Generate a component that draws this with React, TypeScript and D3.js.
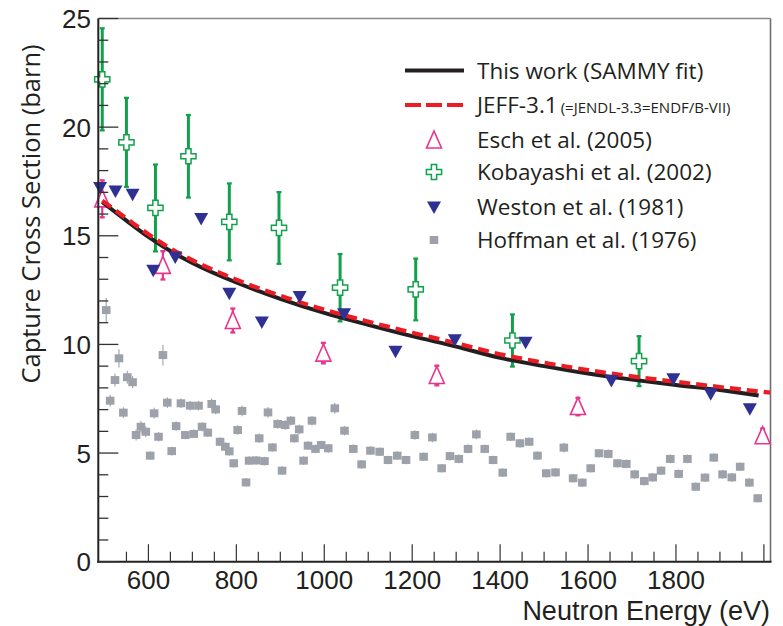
import React from 'react';
import * as d3 from 'd3';

const W = 783;
const H = 626;

// Curves (energy in eV, cross section in barn)
const fitE = [495, 550, 600, 650, 700, 800, 900, 1000, 1100, 1200, 1300, 1400, 1500, 1600, 1700, 1800, 1900, 1988];
const fitV = [16.55, 15.7, 14.95, 14.3, 13.75, 12.85, 12.1, 11.45, 10.9, 10.38, 9.9, 9.38, 9.0, 8.66, 8.38, 8.13, 7.9, 7.65];
const jeffE = [495, 550, 600, 650, 700, 800, 900, 1000, 1100, 1200, 1300, 1400, 1500, 1600, 1700, 1800, 1900, 2014];
const jeffV = [16.62, 15.8, 15.07, 14.42, 13.88, 12.98, 12.24, 11.6, 11.05, 10.54, 10.06, 9.55, 9.16, 8.82, 8.53, 8.28, 8.04, 7.78];

// Esch et al. (2005)
const eschE = [495, 633, 792, 998, 1256, 1577, 1997];
const eschV = [16.7, 13.64, 11.1, 9.6, 8.57, 7.14, 5.8];
const eschErr = [0.85, 0.65, 0.55, 0.47, 0.45, 0.4, 0.32];

// Kobayashi et al. (2002)
const kobE = [495, 550, 616, 691, 784, 897, 1036, 1208, 1428, 1716];
const kobV = [22.2, 19.3, 16.28, 18.66, 15.64, 15.36, 12.61, 12.53, 10.18, 9.23];
const kobErr = [2.35, 2.05, 2.0, 1.9, 1.77, 1.65, 1.55, 1.42, 1.2, 1.15];

// Weston et al. (1981)
const westE = [490, 525, 564, 611, 661, 720, 784, 858, 944, 1045, 1162, 1297, 1458, 1653, 1794, 1879, 1968];
const westV = [17.22, 17.06, 16.91, 13.41, 14.02, 15.79, 12.36, 11.03, 12.2, 11.41, 9.69, 10.22, 10.1, 8.34, 8.42, 7.73, 7.04];

// Hoffman et al. (1976): [energy, value, error]
const hoff: [number, number, number][] = [
  [504, 11.58, 0.57], [513, 7.41, 0.27], [524, 8.36, 0.3], [533, 9.36, 0.42], [543, 6.86, 0.25],
  [552, 8.49, 0.3], [564, 8.26, 0.28], [572, 5.83, 0.25], [583, 6.21, 0.28], [594, 5.98, 0.25],
  [604, 4.88, 0.2], [613, 6.83, 0.25], [623, 5.75, 0.22], [633, 9.51, 0.48], [643, 7.32, 0.25],
  [653, 5.09, 0.2], [663, 6.24, 0.22], [674, 7.29, 0.22], [684, 5.83, 0.2], [695, 7.18, 0.22],
  [703, 5.88, 0.2], [714, 7.18, 0.22], [722, 6.21, 0.22], [735, 5.94, 0.2], [744, 7.26, 0.25],
  [753, 7.01, 0.22], [763, 5.52, 0.2], [775, 5.29, 0.2], [784, 5.08, 0.2], [794, 4.53, 0.2],
  [803, 6.06, 0.22], [813, 6.94, 0.25], [822, 3.65, 0.2], [829, 4.65, 0.2], [845, 4.66, 0.2],
  [852, 5.68, 0.22], [864, 4.63, 0.2], [872, 6.87, 0.25], [882, 5.26, 0.2], [894, 6.34, 0.22],
  [904, 4.19, 0.2], [911, 6.29, 0.22], [924, 6.49, 0.22], [932, 5.68, 0.2], [943, 6.09, 0.22],
  [953, 4.65, 0.2], [963, 5.34, 0.2], [972, 6.49, 0.22], [980, 5.19, 0.2], [993, 5.37, 0.2],
  [1009, 5.22, 0.2], [1024, 7.06, 0.25], [1046, 6.03, 0.22], [1066, 5.19, 0.2], [1085, 4.48, 0.2],
  [1105, 5.11, 0.2], [1126, 5.06, 0.2], [1145, 4.68, 0.2], [1166, 4.88, 0.2], [1186, 4.68, 0.2],
  [1206, 5.83, 0.22], [1226, 4.83, 0.2], [1246, 5.72, 0.22], [1267, 4.3, 0.2], [1286, 4.86, 0.2],
  [1306, 4.73, 0.2], [1327, 5.19, 0.2], [1346, 5.86, 0.22], [1365, 5.19, 0.2], [1384, 4.68, 0.2],
  [1406, 4.1, 0.2], [1424, 5.75, 0.2], [1445, 5.45, 0.2], [1466, 5.52, 0.2], [1485, 4.88, 0.2],
  [1505, 4.07, 0.2], [1526, 4.11, 0.2], [1545, 5.25, 0.22], [1566, 3.84, 0.2], [1587, 3.64, 0.2],
  [1606, 4.3, 0.2], [1625, 4.99, 0.2], [1646, 4.96, 0.2], [1667, 4.53, 0.2], [1687, 4.5, 0.2],
  [1706, 4.02, 0.2], [1728, 3.71, 0.2], [1747, 3.88, 0.2], [1766, 4.19, 0.2], [1787, 4.73, 0.2],
  [1806, 4.04, 0.2], [1826, 4.73, 0.2], [1845, 3.45, 0.2], [1866, 3.87, 0.2], [1886, 4.79, 0.2],
  [1906, 4.02, 0.2], [1927, 3.88, 0.2], [1946, 4.37, 0.2], [1967, 3.64, 0.2], [1986, 2.92, 0.2],
];

const xTickLabels = [600, 800, 1000, 1200, 1400, 1600, 1800];
const yTickLabels = [0, 5, 10, 15, 20, 25];

const legendItems = [
  { key: 'fit', label: 'This work (SAMMY fit)' },
  { key: 'jeff', label: 'JEFF-3.1', small: '(=JENDL-3.3=ENDF/B-VII)' },
  { key: 'esch', label: 'Esch et al. (2005)' },
  { key: 'kob', label: 'Kobayashi et al. (2002)' },
  { key: 'west', label: 'Weston et al. (1981)' },
  { key: 'hoff', label: 'Hoffman et al. (1976)' },
];

const C_BLACK = '#231f20';
const C_RED = '#ed1c24';
const C_PINK = '#e8368f';
const C_GREEN = '#12a14b';
const C_NAVY = '#2e3192';
const C_GRAY = '#9da2aa';
const FONT = "'Open Sans', 'Noto Sans', sans-serif";
const AXFONT = "'Liberation Sans', Arial, sans-serif";

const x = d3.scaleLinear().domain([486, 2015]).range([98.3, 770.5]);
const y = d3.scaleLinear().domain([0, 25]).range([561.7, 18.5]);

const TRI_UP = 'M0,-9 L7.5,8 L-7.5,8 Z';
const TRI_DOWN = 'M-7,-5.5 L7,-5.5 L0,7 Z';
const CROSS = 'M-2.6,-7.6 H2.6 V-2.6 H7.6 V2.6 H2.6 V7.6 H-2.6 V2.6 H-7.6 V-2.6 H-2.6 Z';

function Pink({ cx, cy }: { cx: number; cy: number }) {
  return <path d={TRI_UP} transform={`translate(${cx},${cy})`} fill="#fff" stroke={C_PINK} strokeWidth={1.6} />;
}
function Green({ cx, cy }: { cx: number; cy: number }) {
  return <path d={CROSS} transform={`translate(${cx},${cy})`} fill="#fff" stroke={C_GREEN} strokeWidth={1.5} />;
}
function Navy({ cx, cy }: { cx: number; cy: number }) {
  return <path d={TRI_DOWN} transform={`translate(${cx},${cy})`} fill={C_NAVY} />;
}
function Gray({ cx, cy }: { cx: number; cy: number }) {
  return <rect x={cx - 4.3} y={cy - 4} width={8.6} height={8} fill={C_GRAY} />;
}

export default function App() {
  const line = d3.line<[number, number]>().x((d) => x(d[0])).y((d) => y(d[1])).curve(d3.curveMonotoneX);
  const fitPath = line(fitE.map((e, i) => [e, fitV[i]] as [number, number])) || '';
  const jeffPath = line(jeffE.map((e, i) => [e, jeffV[i]] as [number, number])) || '';

  const xMinor = d3.range(550, 2001, 50);
  const yMinor = d3.range(0, 26, 1);

  const x0 = x.range()[0];
  const x1 = x.range()[1];
  const y0 = y.range()[0];
  const y1 = y.range()[1];

  const legX = 434;
  const legTextX = 477;
  const legY = [70.5, 105, 140, 172, 207, 240];

  return (
    <svg width={W} height={H} viewBox={`0 0 ${W} ${H}`} style={{ position: 'absolute', left: 0, top: 0, background: '#fff' }} fontFamily={FONT}>
      <rect width={W} height={H} fill="#fff" />
      {/* frame top & right */}
      <line x1={x0} x2={x1} y1={y1} y2={y1} stroke="#8a8a8a" strokeWidth={1.6} />
      <line x1={x1} x2={x1} y1={y1} y2={y0} stroke="#6e6e6e" strokeWidth={1.6} />

      {/* Hoffman */}
      <g>
        {hoff.map(([e, v, er], i) => (
          <g key={i}>
            <line x1={x(e)} x2={x(e)} y1={y(v + er)} y2={y(v - er)} stroke={C_GRAY} strokeWidth={1.1} />
            <Gray cx={x(e)} cy={y(v)} />
          </g>
        ))}
      </g>

      {/* Esch */}
      <g>
        {eschE.map((e, i) => {
          const cx = x(e);
          const t = y(eschV[i] + eschErr[i]);
          const b = y(eschV[i] - eschErr[i]);
          return (
            <g key={i}>
              <line x1={cx} x2={cx} y1={t} y2={b} stroke={C_PINK} strokeWidth={2.2} />
              <line x1={cx - 2.5} x2={cx + 2.5} y1={t} y2={t} stroke={C_PINK} strokeWidth={2.4} />
              <line x1={cx - 2.5} x2={cx + 2.5} y1={b} y2={b} stroke={C_PINK} strokeWidth={2.4} />
              <Pink cx={cx} cy={y(eschV[i])} />
            </g>
          );
        })}
      </g>

      {/* Kobayashi */}
      <g>
        {kobE.map((e, i) => {
          const cx = x(e);
          const t = y(kobV[i] + kobErr[i]);
          const b = y(kobV[i] - kobErr[i]);
          return (
            <g key={i}>
              <line x1={cx} x2={cx} y1={t} y2={b} stroke={C_GREEN} strokeWidth={3} />
              <line x1={cx - 2.5} x2={cx + 2.5} y1={t} y2={t} stroke={C_GREEN} strokeWidth={2.2} />
              <line x1={cx - 2.5} x2={cx + 2.5} y1={b} y2={b} stroke={C_GREEN} strokeWidth={2.2} />
              <Green cx={cx} cy={y(kobV[i])} />
            </g>
          );
        })}
      </g>

      {/* curves */}
      <path d={fitPath} fill="none" stroke={C_BLACK} strokeWidth={4} />
      <path d={jeffPath} fill="none" stroke={C_RED} strokeWidth={4.2} strokeDasharray="11,6" />

      {/* Weston */}
      <g>
        {westE.map((e, i) => (
          <Navy key={i} cx={x(e)} cy={y(westV[i])} />
        ))}
      </g>

      {/* axes */}
      <line x1={x0} x2={x0} y1={y1} y2={y0 + 1} stroke="#222" strokeWidth={2} />
      <line x1={x0 - 1} x2={x1 + 1} y1={y0} y2={y0} stroke="#222" strokeWidth={2} />
      {xMinor.map((v) => {
        const major = v % 200 === 0;
        return <line key={v} x1={x(v)} x2={x(v)} y1={y0} y2={y0 - (major ? 17.5 : 10)} stroke="#333" strokeWidth={1.2} />;
      })}
      {yMinor.map((v) => {
        const major = v % 5 === 0;
        return <line key={v} x1={x0} x2={x0 + (major ? 20 : 10)} y1={y(v)} y2={y(v)} stroke="#333" strokeWidth={1.3} />;
      })}
      {xTickLabels.map((v) => (
        <text key={v} x={x(v)} y={589} textAnchor="middle" fontSize={26} fontFamily={AXFONT} fill={C_BLACK}>
          {v}
        </text>
      ))}
      {yTickLabels.map((v) => (
        <text key={v} x={91} y={y(v) + 9.5} textAnchor="end" fontSize={26} fontFamily={AXFONT} fill={C_BLACK}>
          {v}
        </text>
      ))}
      <text x={770} y={620} textAnchor="end" fontSize={27} fontFamily={AXFONT} fill={C_BLACK}>
        Neutron Energy (eV)
      </text>
      <text transform="translate(40,214) rotate(-90)" textAnchor="middle" fontSize={25.5} fill={C_BLACK}>
        Capture Cross Section (barn)
      </text>

      {/* legend */}
      <g>
        {legendItems.map((it, i) => {
          const ly = legY[i];
          let sym: React.ReactNode = null;
          if (it.key === 'fit') sym = <line x1={405} x2={464} y1={ly} y2={ly} stroke={C_BLACK} strokeWidth={4} />;
          if (it.key === 'jeff') sym = <line x1={405} x2={464} y1={ly} y2={ly} stroke={C_RED} strokeWidth={4} strokeDasharray="16,5" />;
          if (it.key === 'esch') sym = <Pink cx={legX} cy={ly} />;
          if (it.key === 'kob') sym = <Green cx={legX} cy={ly} />;
          if (it.key === 'west') sym = <Navy cx={legX} cy={ly} />;
          if (it.key === 'hoff') sym = <Gray cx={legX} cy={ly} />;
          return (
            <g key={it.key}>
              {sym}
              <text x={legTextX} y={ly + 8} fontSize={22.5} fill={C_BLACK}>
                {it.label}
                {it.small ? (
                  <tspan fontSize={15} dx={3}>
                    {it.small}
                  </tspan>
                ) : null}
              </text>
            </g>
          );
        })}
      </g>
    </svg>
  );
}
